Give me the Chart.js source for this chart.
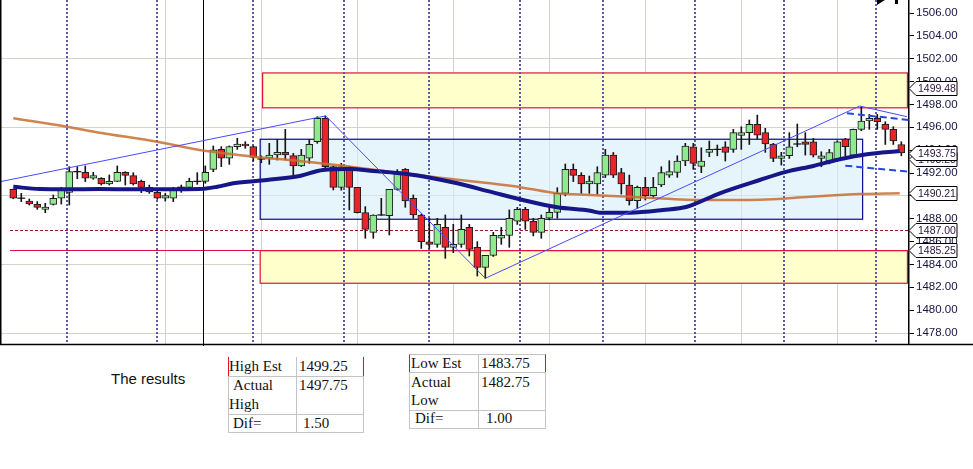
<!DOCTYPE html>
<html>
<head>
<meta charset="utf-8">
<script src="https://cdn.jsdelivr.net/npm/chart.js@4.4.1/dist/chart.umd.min.js"></script>
<style>
  body { margin:0; background:#fff; width:973px; height:469px; position:relative; overflow:hidden; }
  #wrap { position:absolute; left:0; top:0; width:973px; height:346px; }
  .t { position:absolute; font-family:"Liberation Serif","Times New Roman",serif; font-size:15px; line-height:15px; color:#111; white-space:nowrap; }
  .cell { position:absolute; border:1px solid #c4c4c4; box-sizing:border-box; }
</style>
</head>
<body>
<div id="wrap"><canvas id="myChart" width="973" height="346"></canvas></div>

<div style="position:absolute;left:111px;top:371px;font-family:'Liberation Sans',Arial,sans-serif;font-size:15px;line-height:15px;color:#111">The results</div>

<!-- high table -->
<div class="cell" style="left:228px;top:357px;width:69px;height:20px;border-top:none;border-left:1px solid #e0102a"></div>
<div class="cell" style="left:296px;top:357px;width:68px;height:20px;border-top:none;border-right:1px solid #e0102a"></div>
<div class="cell" style="left:228px;top:376px;width:69px;height:39px"></div>
<div class="cell" style="left:296px;top:376px;width:68px;height:39px"></div>
<div class="cell" style="left:228px;top:414px;width:69px;height:19px"></div>
<div class="cell" style="left:296px;top:414px;width:68px;height:19px"></div>
<div class="t" style="left:229px;top:359px">High Est</div>
<div class="t" style="left:299px;top:359px">1499.25</div>
<div class="t" style="left:233px;top:378px">Actual</div>
<div class="t" style="left:229px;top:397px">High</div>
<div class="t" style="left:299px;top:378px">1497.75</div>
<div class="t" style="left:233px;top:416px">Dif=</div>
<div class="t" style="left:303px;top:416px">1.50</div>

<!-- low table -->
<div class="cell" style="left:409px;top:354px;width:70px;height:19px;border-left:1px solid #e0102a"></div>
<div class="cell" style="left:478px;top:354px;width:68px;height:19px;border-right:1px solid #e0102a"></div>
<div class="cell" style="left:409px;top:372px;width:70px;height:39px"></div>
<div class="cell" style="left:478px;top:372px;width:68px;height:39px"></div>
<div class="cell" style="left:409px;top:410px;width:70px;height:19px"></div>
<div class="cell" style="left:478px;top:410px;width:68px;height:19px"></div>
<div class="t" style="left:411px;top:356px">Low Est</div>
<div class="t" style="left:481px;top:356px">1483.75</div>
<div class="t" style="left:411px;top:375px">Actual</div>
<div class="t" style="left:411px;top:393px">Low</div>
<div class="t" style="left:481px;top:375px">1482.75</div>
<div class="t" style="left:415px;top:411px">Dif=</div>
<div class="t" style="left:486px;top:411px">1.00</div>

<script>
// candle data (index 0..111)
var opens = [1490.57,1489.8,1489.55,1489.26,1488.82,1489.26,1489.79,1490.31,1492.12,1492.06,
  1491.54,1491.54,1491.04,1491.27,1492.06,1491.77,1491.27,1490.75,1490.31,1489.79,
  1489.79,1490.75,1490.75,1491.27,1491.27,1492.32,1494.07,1493.29,1494.31,1494.54,
  1494.31,1493.23,1493.29,1493.58,1493.81,1493.52,1492.62,1493.29,1494.74,1496.79,
  1492.56,1490.75,1492.56,1490.75,1488.53,1486.81,1488.33,1488.27,1490.57,1492.32,
  1489.79,1488.33,1485.99,1485.76,1487.25,1485.5,1485.76,1487.25,1485.5,1483.75,
  1484.8,1486.29,1486.55,1487.78,1488.83,1487.78,1486.81,1488.04,1488.56,1490.22,
  1492.32,1491.8,1491.04,1491.04,1491.82,1493.57,1492.03,1490.95,1489.58,1490.74,
  1490.02,1490.95,1491.82,1492.06,1493.05,1494.3,1492.57,1493.81,1494.07,1494.3,
  1494.07,1495.3,1495.53,1496.26,1495.53,1494.54,1493.28,1493.51,1494.54,1494.74,
  1494.74,1493.28,1493.05,1493.22,1494.97,1493.57,1495.82,1496.55,1496.79,1496.29,
  1495.82,1494.5];
var highs = [1490.6,1490.22,1489.73,1489.5,1489.35,1490.08,1490.75,1492.56,1492.56,1492.62,
  1492.06,1491.6,1491.83,1492.62,1492.12,1492.03,1491.39,1490.95,1490.52,1490.22,
  1490.75,1490.95,1491.54,1492.03,1492.62,1494.37,1494.31,1494.37,1495.04,1494.74,
  1494.37,1493.5,1494.6,1494.95,1495.82,1493.72,1494.07,1494.95,1496.93,1497.0,
  1492.6,1492.85,1492.6,1490.75,1489.06,1488.35,1489.79,1490.57,1492.3,1492.4,
  1490.08,1488.4,1488.04,1488.04,1488.33,1487.51,1488.33,1487.51,1486.0,1484.8,
  1486.81,1487.25,1488.77,1489.0,1489.0,1488.04,1488.33,1489.06,1490.72,1492.79,
  1492.79,1492.03,1491.74,1492.55,1494.07,1493.8,1492.41,1491.82,1490.86,1491.62,
  1491.62,1492.55,1493.08,1493.51,1494.6,1494.6,1494.21,1494.8,1494.45,1494.74,
  1495.82,1496.05,1496.64,1497.07,1495.91,1494.6,1493.81,1495.53,1496.29,1495.53,
  1495.03,1493.86,1494.07,1494.83,1495.03,1495.85,1497.8,1497.13,1497.13,1496.49,
  1496.05,1494.74];
var lows = [1489.75,1489.5,1489.2,1488.82,1488.53,1489.2,1489.29,1489.2,1491.5,1491.25,
  1491.45,1490.95,1490.95,1491.25,1490.95,1490.95,1490.28,1490.22,1489.7,1489.55,
  1489.5,1490.31,1490.66,1491.01,1491.1,1492.12,1492.56,1492.76,1494.07,1494.16,
  1493.05,1492.9,1492.76,1493.14,1493.14,1491.83,1492.56,1492.85,1494.6,1492.4,
  1490.52,1490.5,1488.77,1488.5,1486.29,1486.29,1488.3,1486.58,1490.5,1489.0,
  1488.04,1485.4,1485.4,1485.5,1484.54,1485.03,1485.5,1484.74,1482.99,1482.79,
  1484.7,1485.76,1485.5,1487.5,1487.07,1486.5,1486.29,1487.9,1488.04,1490.0,
  1491.25,1490.22,1490.22,1490.16,1491.6,1491.6,1490.16,1489.2,1488.91,1489.64,
  1489.8,1490.8,1491.62,1491.62,1492.64,1492.32,1492.03,1493.43,1493.51,1493.05,
  1493.81,1494.07,1494.5,1495.0,1493.81,1492.99,1492.7,1493.28,1494.3,1493.57,
  1493.4,1492.55,1492.8,1493.0,1493.51,1493.4,1495.7,1495.82,1495.82,1494.5,
  1494.5,1493.51];
var closes = [1489.79,1489.8,1489.29,1489.0,1489.03,1489.79,1490.52,1492.12,1492.12,1491.54,
  1491.77,1491.04,1491.27,1492.06,1491.8,1491.04,1490.75,1490.34,1489.79,1490.02,
  1490.52,1490.75,1491.27,1491.27,1492.06,1494.02,1493.29,1494.31,1494.54,1494.37,
  1493.37,1493.23,1493.58,1493.81,1493.58,1492.62,1493.58,1494.51,1496.79,1492.56,
  1490.75,1492.56,1490.75,1488.53,1487.07,1488.33,1488.33,1490.57,1492.12,1489.55,
  1488.33,1485.99,1485.76,1487.51,1485.5,1485.76,1487.07,1485.32,1483.75,1484.8,
  1486.55,1486.55,1488.04,1488.83,1487.78,1486.81,1488.04,1488.56,1490.22,1492.32,
  1491.8,1491.04,1491.3,1492.03,1493.57,1491.82,1491.04,1489.58,1490.74,1490.02,
  1490.74,1492.03,1492.12,1493.05,1494.36,1492.84,1493.05,1494.07,1494.07,1493.81,
  1495.53,1495.53,1496.26,1495.32,1494.54,1493.28,1493.51,1494.3,1494.54,1494.51,
  1493.57,1493.51,1493.8,1494.74,1494.3,1495.82,1496.55,1496.79,1496.49,1495.82,
  1494.8,1493.75];

// moving averages [index, price]
var slowMA = [[0,1496.79],[6.7,1496.05],[10.8,1495.53],[18,1494.74],[23.3,1494.01],[30,1493.43],
  [35.8,1493.05],[42.1,1492.55],[47.1,1492.12],[53.3,1491.59],[59.6,1491.1],[63.7,1490.72],
  [67.9,1490.23],[72.1,1490.08],[77.1,1489.93],[85.8,1489.64],[93.3,1489.67],[99.6,1489.93],
  [105.8,1490.16],[110.8,1490.23]];
var fastMA = [[0,1490.8],[3.3,1490.6],[6.7,1490.58],[10.8,1490.6],[15,1490.58],[19.2,1490.58],
  [23.3,1490.6],[25.5,1490.8],[27.5,1491.1],[31.7,1491.39],[35.8,1491.74],[38.7,1492.27],
  [42.1,1492.35],[45,1492.18],[49.2,1491.91],[52.1,1491.59],[55.5,1491.1],[59.6,1490.37],
  [63.7,1489.64],[68,1489.0],[72.1,1488.7],[73.3,1488.53],[77.1,1488.53],[81.2,1488.76],
  [84.2,1489.05],[88.3,1490.23],[93.3,1491.39],[96.7,1492.12],[100,1492.62],[103.3,1493.2],
  [106.7,1493.64],[110.8,1493.93]];

// trend lines [index, price]
var trendThin = [[-1.66,1491.24],[39.05,1497.0],[59,1482.79],[105.8,1497.86],[111.7,1496.93]];
var channelTop = [[104.2,1497.23],[111.96,1496.64]];
var channelBot = [[104,1492.64],[111.96,1492.12]];

var levels = { dashed: 1487.00, solid: 1485.25 };
var tagValues = [1499.48, 1493.25, 1493.75, 1490.21, 1487.00, 1485.25];
var sessionLines = [6.7, 17.96, 29.96, 41.3, 51.96, 63.3, 73.7, 85.2, 96.3, 107.8];
var gridIdx = [19, 31, 43, 55, 67, 79, 91, 103];
var markerIdx = 23.7;

var idx = opens.map(function (v, i) { return i; });
function pts(arr) { return arr.map(function (p) { return { x: p[0], y: p[1] }; }); }

var overlay = {
  id: 'overlay',
  beforeDatasetsDraw: function (chart) {
    var ctx = chart.ctx, xs = chart.scales.x, ys = chart.scales.y, a = chart.chartArea;
    function box(x0, x1, p0, p1, fill, stroke) {
      var l = xs.getPixelForValue(x0), r = xs.getPixelForValue(x1);
      var t = ys.getPixelForValue(p1), b = ys.getPixelForValue(p0);
      ctx.fillStyle = fill; ctx.fillRect(l, t, r - l, b - t);
      ctx.strokeStyle = stroke; ctx.lineWidth = 1.2; ctx.strokeRect(l + 0.5, t + 0.5, r - l, b - t);
    }
    ctx.save();
    box(31.1, 111.7, 1497.75, 1500.8, '#ffffcc', '#dc143c');
    box(30.8, 111.7, 1482.4, 1485.25, '#ffffcc', '#dc143c');
    box(30.8, 106.1, 1488.0, 1495.0, 'rgba(214,236,248,0.6)', '#0a0a90');
    // level lines
    var yd = Math.round(ys.getPixelForValue(levels.dashed)) + 0.5;
    ctx.strokeStyle = '#9b1c1c'; ctx.lineWidth = 1; ctx.setLineDash([3, 2]);
    ctx.beginPath(); ctx.moveTo(10, yd); ctx.lineTo(a.right, yd); ctx.stroke();
    ctx.setLineDash([]);
    var ysol = Math.round(ys.getPixelForValue(levels.solid)) + 0.5;
    ctx.strokeStyle = '#dc143c';
    ctx.beginPath(); ctx.moveTo(10, ysol); ctx.lineTo(a.right, ysol); ctx.stroke();
    // session separators
    ctx.strokeStyle = '#5c5ca6'; ctx.lineWidth = 2; ctx.setLineDash([2, 2]);
    sessionLines.forEach(function (v) {
      var x = Math.round(xs.getPixelForValue(v));
      ctx.beginPath(); ctx.moveTo(x, a.top); ctx.lineTo(x, a.bottom); ctx.stroke();
    });
    ctx.setLineDash([]);
    ctx.strokeStyle = '#000'; ctx.lineWidth = 1;
    var xm = Math.round(xs.getPixelForValue(markerIdx)) + 0.5;
    ctx.beginPath(); ctx.moveTo(xm, 0); ctx.lineTo(xm, a.bottom + 4); ctx.stroke();
    ctx.restore();
  },
  afterDraw: function (chart) {
    var ctx = chart.ctx, ys = chart.scales.y, a = chart.chartArea;
    ctx.save();
    ctx.strokeStyle = '#000'; ctx.lineWidth = 1.5;
    ctx.beginPath(); ctx.moveTo(0, a.bottom + 0.5); ctx.lineTo(973, a.bottom + 0.5); ctx.stroke();
    ctx.beginPath(); ctx.moveTo(0.75, 0); ctx.lineTo(0.75, a.bottom); ctx.stroke();
    var xm = Math.round(chart.scales.x.getPixelForValue(markerIdx)) + 0.5;
    ctx.lineWidth = 1;
    ctx.beginPath(); ctx.moveTo(xm, a.bottom); ctx.lineTo(xm, a.bottom + 4); ctx.stroke();
    // price tags
    ctx.font = '10.5px "Liberation Sans", Arial, sans-serif';
    ctx.textBaseline = 'middle';
    tagValues.forEach(function (v) {
      var y = Math.round(ys.getPixelForValue(v)) + 0.5, x = a.right;
      ctx.beginPath();
      ctx.moveTo(x, y); ctx.lineTo(x + 7, y - 7); ctx.lineTo(x + 48, y - 7);
      ctx.lineTo(x + 48, y + 7); ctx.lineTo(x + 7, y + 7); ctx.closePath();
      ctx.fillStyle = '#fff'; ctx.fill();
      ctx.strokeStyle = '#000'; ctx.stroke();
      ctx.fillStyle = '#2a1440';
      ctx.fillText(v.toFixed(2), x + 9, y + 1);
    });
    // small marks top right
    ctx.fillStyle = '#000';
    ctx.beginPath(); ctx.moveTo(877, 0); ctx.lineTo(885, 0); ctx.lineTo(877, 5); ctx.closePath(); ctx.fill();
    ctx.fillRect(895, 0, 3, 4);
    ctx.restore();
  }
};

var config = {
  type: 'bar',
  data: {
    datasets: [{
      type: 'line',
      data: pts(trendThin),
      borderColor: '#4a4aff',
      borderWidth: 1,
      pointRadius: 0,
      order: 0
    }, {
      type: 'line',
      data: pts(channelTop),
      borderColor: '#2448e0',
      borderWidth: 2,
      borderDash: [7, 4],
      pointRadius: 0,
      order: 0
    }, {
      type: 'line',
      data: pts(channelBot),
      borderColor: '#2448e0',
      borderWidth: 2,
      borderDash: [7, 4],
      pointRadius: 0,
      order: 0
    }, {
      type: 'line',
      data: pts(fastMA),
      borderColor: '#161688',
      borderWidth: 4,
      cubicInterpolationMode: 'monotone',
      pointRadius: 0,
      order: 1
    }, {
      type: 'line',
      data: pts(slowMA),
      borderColor: 'rgba(200,110,50,0.85)',
      borderWidth: 2.5,
      cubicInterpolationMode: 'monotone',
      pointRadius: 0,
      order: 2
    }, {
      type: 'scatter',
      data: idx.filter(function (i) { return opens[i] === closes[i]; })
        .map(function (i) { return { x: i, y: closes[i] }; }),
      pointStyle: 'line',
      radius: 4,
      borderColor: '#111',
      borderWidth: 1.2,
      order: 3
    }, {
      data: idx.map(function (i) { return { x: i, y: [opens[i], closes[i]] }; }),
      backgroundColor: idx.map(function (i) { return closes[i] >= opens[i] ? '#8fea8f' : '#e8242a'; }),
      borderColor: '#1e1e1e',
      borderWidth: 1,
      borderSkipped: false,
      barThickness: 7,
      grouped: false,
      order: 4
    }, {
      data: idx.map(function (i) { return { x: i, y: [lows[i], highs[i]] }; }),
      backgroundColor: '#151515',
      barThickness: 1,
      grouped: false,
      order: 5
    }]
  },
  options: {
    responsive: false,
    animation: false,
    devicePixelRatio: 1,
    layout: { padding: 0, autoPadding: false },
    plugins: { legend: { display: false }, tooltip: { enabled: false } },
    scales: {
      x: {
        type: 'linear',
        offset: false,
        min: -1.66,
        max: 111.96,
        afterBuildTicks: function (axis) { axis.ticks = gridIdx.map(function (v) { return { value: v }; }); },
        afterFit: function (axis) { axis.height = 2; axis.paddingLeft = 0; axis.paddingRight = 0; },
        ticks: { display: false },
        grid: { color: '#d4d4cc', drawTicks: false, offset: false },
        border: { display: false }
      },
      y: {
        position: 'right',
        min: 1477.04,
        max: 1507.14,
        afterFit: function (axis) { axis.width = 64; axis.paddingTop = 0; axis.paddingBottom = 0; },
        ticks: {
          stepSize: 2,
          includeBounds: false,
          padding: 2,
          color: '#141440',
          font: { family: '"Liberation Sans", Arial, sans-serif', size: 11.5 },
          callback: function (v) { return v.toFixed(2); }
        },
        grid: {
          color: function (c) { return (c.tick && Math.round(c.tick.value) % 6 === 2) ? '#d4d4cc' : 'rgba(0,0,0,0)'; },
          tickColor: '#000',
          tickLength: 5
        },
        border: { display: true, color: '#000', width: 1.5 }
      }
    }
  },
  plugins: [overlay]
};

var myChart = new Chart(document.getElementById('myChart'), config);
</script>
</body>
</html>
